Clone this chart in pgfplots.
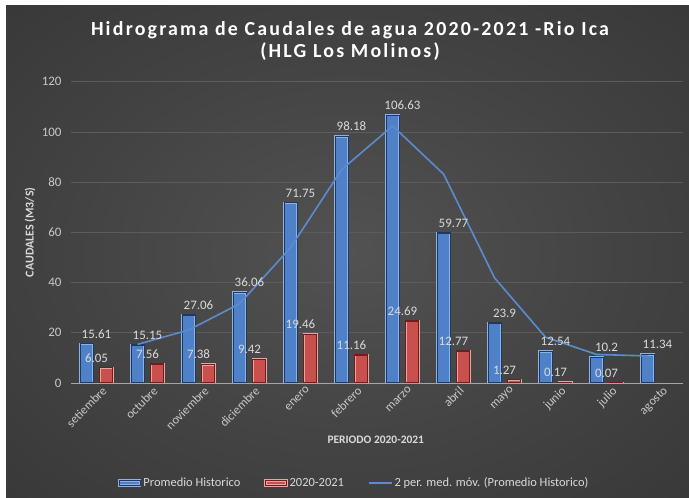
\documentclass[border=0pt]{standalone}
\usepackage{pgfplots}
\pgfplotsset{compat=1.18}
\usepackage{fontspec}
\setmainfont{Carlito}
\definecolor{bgin}{HTML}{525252}
\definecolor{bgmid}{HTML}{434343}
\definecolor{bgedge}{HTML}{2F2F2F}
\definecolor{bgcorner}{HTML}{282828}
\definecolor{gridgray}{HTML}{5C5C5C}
\definecolor{basegray}{HTML}{A6A6A6}
\definecolor{ticktext}{HTML}{C8C8C8}
\definecolor{labeltext}{HTML}{DADADA}
\definecolor{bluefill}{HTML}{4F81C8}
\definecolor{blueedge}{HTML}{1F3864}
\definecolor{bluerim}{HTML}{8DB3E2}
\definecolor{redfill}{HTML}{C9504D}
\definecolor{rededge}{HTML}{6E1E1C}
\definecolor{redrim}{HTML}{E6A5A3}
\definecolor{mavg}{HTML}{5B8BD0}
\pgfdeclareradialshading{bgshade}{\pgfpoint{0bp}{0bp}}{color(0bp)=(bgin); color(20bp)=(bgmid); color(50bp)=(bgedge); color(71bp)=(bgcorner)}
\pgfplotsset{
  barlegend/.style={legend image code/.code={\draw[##1] (0bp,-2.5bp) rectangle (21bp,2.5bp);}},
  linelegend/.style={legend image code/.code={\draw[##1] (0bp,0bp) -- (23bp,0bp);}},
}
\pgfplotstableread{
x y
0 15.61
1 15.15
2 27.06
3 36.06
4 71.75
5 98.18
6 106.63
7 59.77
8 23.9
9 12.54
10 10.2
11 11.34
}\promedio
\pgfplotstableread{
x y
0 6.05
1 7.56
2 7.38
3 9.42
4 19.46
5 11.16
6 24.69
7 12.77
8 1.27
9 0.17
10 0.07
}\actual
\pgfplotstableread{
x y
1 15.38
2 21.105
3 31.56
4 53.905
5 84.965
6 102.405
7 83.2
8 41.835
9 18.22
10 11.37
11 10.77
}\movavg
\begin{document}
\begin{tikzpicture}
\useasboundingbox (0bp,0bp) rectangle (689bp,498bp);
\fill[white] (0bp,0bp) rectangle (689bp,498bp);
\shade[shading=bgshade] (6bp,0bp) rectangle (689bp,492bp);
\node[font=\bfseries\fontsize{20}{22}\selectfont\addfontfeatures{LetterSpace=11}, text=white, align=center] at (350bp,457bp) {Hidrograma de Caudales de agua 2020-2021 -Rio Ica\\(HLG Los Molinos)};
\begin{axis}[
  at={(71bp,115bp)}, anchor=south west,
  scale only axis, width=612bp, height=301.3bp,
  xmin=-0.5, xmax=11.5, ymin=0, ymax=120,
  ytick={0,20,...,120},
  xtick={0,...,11},
  xticklabels={setiembre,octubre,noviembre,diciembre,enero,febrero,marzo,abril,mayo,junio,julio,agosto},
  /pgf/number format/assume math mode=true,
  axis line style={draw=none},
  major tick length=0pt,
  ymajorgrids, grid style={draw=gridgray, line width=0.8bp},
  tick label style={font=\fontsize{13}{15}\selectfont, text=ticktext},
  yticklabel style={xshift=-6bp},
  xticklabel style={font=\fontsize{12.5}{14}\selectfont, rotate=45, anchor=north east, xshift=5bp, yshift=-2bp},
  xlabel={\textbf{PERIODO 2020-2021}},
  ylabel={\textbf{CAUDALES (M3/S)}},
  label style={text=labeltext},
  xlabel style={font=\fontsize{11.5}{13}\selectfont, at={(axis description cs:0.498,-0.189)}, anchor=center},
  ylabel style={font=\fontsize{12}{14}\selectfont, at={(axis description cs:-0.067,0.5)}, anchor=center},
  legend columns=3,
  legend style={at={(0.463,-0.332)}, anchor=center, draw=none, fill=none,
    font=\fontsize{12.5}{14}\selectfont, text=labeltext,
    /tikz/every even column/.append style={column sep=22bp}},
  nodes near coords style={font=\fontsize{13}{15}\selectfont, text=labeltext, yshift=2bp},
  clip=false,
]
\addplot[ybar, bar width=13bp, bar shift=-9.9bp, fill=bluefill, draw=bluerim, double=blueedge, double distance=1.2bp, line width=0.5bp,
  nodes near coords, point meta=explicit symbolic, barlegend]
  table[x=x, y=y, meta=y] {\promedio};
\addlegendentry{Promedio Historico}
\addplot[ybar, bar width=13bp, bar shift=9.6bp, fill=redfill, draw=redrim, double=rededge, double distance=1.2bp, line width=0.5bp,
  nodes near coords, point meta=explicit symbolic, barlegend]
  table[x=x, y=y, meta=y] {\actual};
\addlegendentry{2020-2021}
\addplot[mavg, line width=1.6bp, xshift=-9.9bp, linelegend]
  table[x=x, y=y] {\movavg};
\addlegendentry{2 per. med. móv. (Promedio Historico)}
\draw[basegray, line width=1bp] (axis cs:-0.5,0) -- (axis cs:11.5,0);
\end{axis}
\end{tikzpicture}
\end{document}
